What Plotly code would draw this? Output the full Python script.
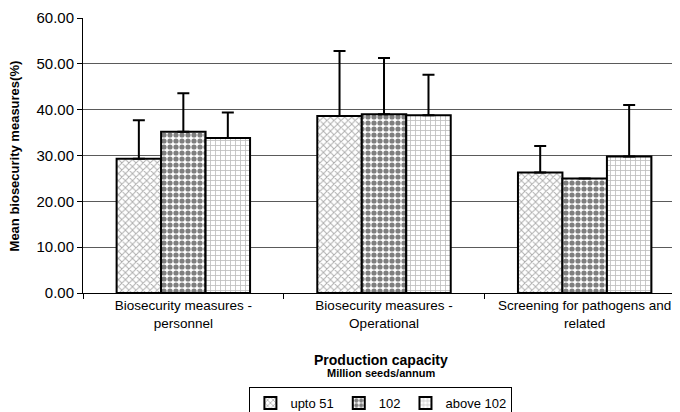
import plotly.graph_objects as go

categories = ["Biosecurity measures -<br>personnel",
              "Biosecurity measures -<br>Operational",
              "Screening for pathogens and<br>related"]
series_names = ["upto 51", "102", "above 102"]
upto51 = [29.3, 38.6, 26.3]
upto51_err = [8.4, 14.2, 5.8]
s102 = [35.2, 39.0, 25.0]
s102_err = [8.4, 12.3, 0.0]
above102 = [33.8, 38.8, 29.8]
above102_err = [5.6, 8.8, 11.2]

patterns = [
    dict(shape="x", fgcolor="#5a5a5a", bgcolor="white", size=5, solidity=0.35),
    dict(shape=".", fgcolor="#000000", bgcolor="white", size=6, solidity=0.6),
    dict(shape="+", fgcolor="#7a7a7a", bgcolor="white", size=5, solidity=0.3),
]

fig = go.Figure()
for name, vals, errs, pat in zip(series_names, [upto51, s102, above102],
                                 [upto51_err, s102_err, above102_err], patterns):
    fig.add_trace(go.Bar(
        x=categories, y=vals, name=name,
        marker=dict(color="white", pattern=pat, line=dict(color="black", width=2)),
        error_y=dict(type="data", array=errs, arrayminus=[0] * len(errs),
                     symmetric=False, color="black", thickness=2, width=6),
    ))

# The page body has an 8px margin, so the figure is 8px smaller and offset.
font_family = "Liberation Sans, Arial, sans-serif"
fig.update_layout(
    width=672, height=404,
    margin=dict(l=75, r=0, t=10, b=119),
    paper_bgcolor="white", plot_bgcolor="white",
    barmode="group", bargap=0.335, bargroupgap=0,
    font=dict(family=font_family, size=13, color="black"),
    showlegend=True,
    legend=dict(orientation="h", x=0.499, xanchor="center",
                yref="container", y=0.062, yanchor="top",
                bordercolor="black", borderwidth=1, font=dict(size=13),
                itemwidth=30, tracegroupgap=0),
    xaxis=dict(range=[-0.5, 2.475], showline=True, linecolor="black", linewidth=1,
               ticks="outside", tickson="boundaries", ticklen=5, tickcolor="black",
               tickfont=dict(size=13.5), showgrid=False, automargin=False),
    yaxis=dict(range=[0, 60], dtick=10, tickformat=".2f", showline=True,
               linecolor="black", linewidth=1, ticks="outside", ticklen=5,
               tickcolor="black", tickfont=dict(size=15), showgrid=True,
               gridcolor="#5a5a5a", gridwidth=1, zeroline=False, automargin=False),
    annotations=[
        dict(text="<b>Production capacity</b>", x=0.499, y=-0.244, xref="paper",
             yref="paper", showarrow=False, font=dict(size=14), xanchor="center",
             yanchor="middle"),
        dict(text="<b>Million seeds/annum</b>", x=0.499, y=-0.292, xref="paper",
             yref="paper", showarrow=False, font=dict(size=11), xanchor="center",
             yanchor="middle"),
        dict(text="<b>Mean biosecurity measures(%)</b>", x=-0.114, y=0.5,
             xref="paper", yref="paper", showarrow=False, textangle=-90,
             font=dict(size=13), xanchor="center", yanchor="middle"),
    ],
)

fig.write_html("out.html")
